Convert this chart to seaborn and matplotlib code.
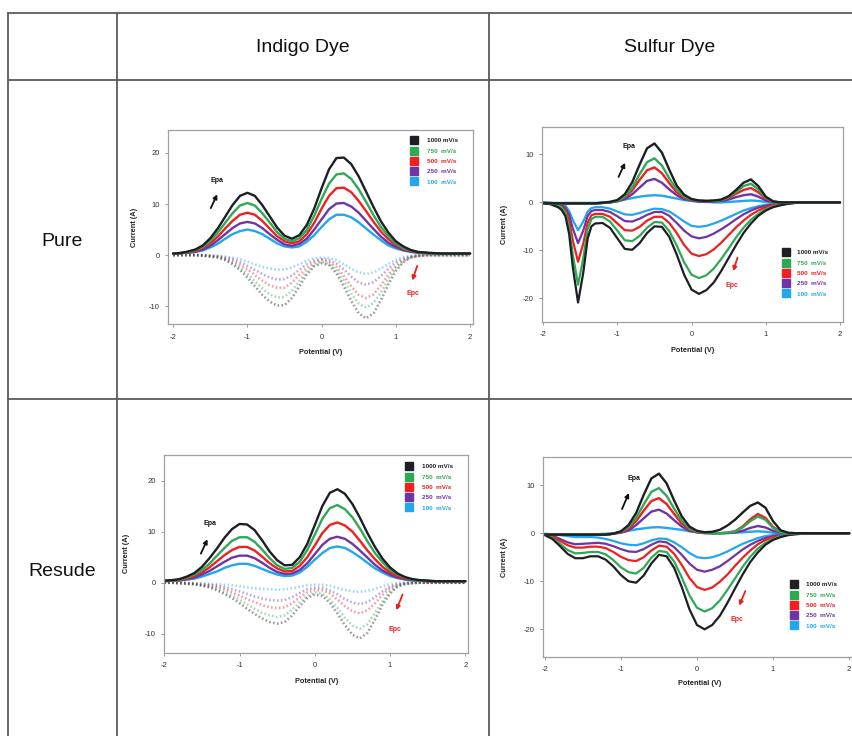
import numpy as np
import pandas as pd
import matplotlib
matplotlib.use("Agg")
import matplotlib.pyplot as plt
import seaborn as sns
from matplotlib.lines import Line2D

# ---------------- data ----------------
RATES = ["1000 mV/s", "750  mV/s", "500  mV/s", "250  mV/s", "100  mV/s"]
COLORS = ["#1d1f24", "#2fa955", "#ee2020", "#7034a4", "#22a6ec"]
COL_HEADERS = ["Indigo Dye", "Sulfur Dye"]
ROW_HEADERS = ["Pure", "Resude"]

POT_41 = [-2.0, -1.9, -1.8, -1.7, -1.6, -1.5, -1.4, -1.3, -1.2, -1.1,
          -1.0, -0.9, -0.8, -0.7, -0.6, -0.5, -0.4, -0.3, -0.2, -0.1,
          0.0, 0.1, 0.2, 0.3, 0.4, 0.5, 0.6, 0.7, 0.8, 0.9,
          1.0, 1.1, 1.2, 1.3, 1.4, 1.5, 1.6, 1.7, 1.8, 1.9, 2.0]

POT_SULFUR_PURE = [-2.0, -1.9, -1.8, -1.75, -1.7, -1.65, -1.6, -1.53, -1.46, -1.4, -1.35, -1.3, -1.2,
                   -1.1, -1.0, -0.9, -0.8, -0.7, -0.6, -0.5, -0.4, -0.3, -0.2, -0.1,
                   0.0, 0.1, 0.2, 0.3, 0.4, 0.5, 0.6, 0.7, 0.8, 0.9, 1.0, 1.1,
                   1.2, 1.3, 1.4, 1.5, 1.6, 1.7, 1.8, 1.9, 2.0]

# Indigo dye, pure: anodic (solid) sweep
ind_pure_ox_1000 = [0.3, 0.4, 0.7, 1.1, 1.9, 3.3, 5.2, 7.5, 9.8, 11.6, 12.2, 11.6, 9.8, 7.6, 5.4, 3.8, 3.2, 3.9, 5.9, 9.1,
                    13.1, 16.8, 19.0, 19.1, 17.8, 15.4, 12.4, 9.4, 6.6, 4.4, 2.7, 1.7, 1.0, 0.6, 0.5, 0.4, 0.3, 0.3, 0.3, 0.3, 0.3]
ind_pure_ox_750 = [0.3, 0.4, 0.6, 1.0, 1.6, 2.8, 4.4, 6.3, 8.2, 9.7, 10.2, 9.7, 8.2, 6.4, 4.5, 3.2, 2.7, 3.3, 4.9, 7.7,
                   11.0, 14.0, 15.8, 16.0, 14.9, 12.9, 10.4, 7.8, 5.5, 3.7, 2.3, 1.4, 0.9, 0.6, 0.4, 0.3, 0.3, 0.3, 0.3, 0.3, 0.3]
ind_pure_ox_500 = [0.3, 0.4, 0.5, 0.8, 1.4, 2.3, 3.6, 5.2, 6.7, 7.9, 8.3, 7.9, 6.7, 5.2, 3.7, 2.7, 2.3, 2.7, 4.1, 6.3,
                   9.1, 11.6, 13.1, 13.2, 12.3, 10.6, 8.6, 6.5, 4.6, 3.1, 2.0, 1.2, 0.8, 0.5, 0.4, 0.3, 0.3, 0.3, 0.3, 0.3, 0.3]
ind_pure_ox_250 = [0.3, 0.4, 0.5, 0.7, 1.1, 1.8, 2.9, 4.1, 5.3, 6.2, 6.5, 6.2, 5.3, 4.1, 3.0, 2.1, 1.8, 2.2, 3.2, 5.0,
                   7.0, 9.0, 10.1, 10.2, 9.5, 8.3, 6.7, 5.1, 3.6, 2.4, 1.6, 1.0, 0.7, 0.5, 0.4, 0.3, 0.3, 0.3, 0.3, 0.3, 0.3]
ind_pure_ox_100 = [0.3, 0.4, 0.4, 0.6, 0.9, 1.5, 2.2, 3.2, 4.1, 4.7, 5.0, 4.7, 4.1, 3.2, 2.3, 1.7, 1.5, 1.7, 2.6, 3.9,
                   5.5, 7.0, 7.9, 7.9, 7.4, 6.4, 5.2, 4.0, 2.9, 1.9, 1.3, 0.9, 0.6, 0.4, 0.4, 0.3, 0.3, 0.3, 0.3, 0.3, 0.3]
# Indigo dye, pure: cathodic (dotted) sweep
ind_pure_red_1000 = [0.0, 0.0, 0.0, 0.0, -0.1, -0.3, -0.5, -1.0, -1.8, -2.9, -4.4, -6.1, -7.8, -9.1, -9.9, -9.8, -8.4, -6.1, -3.8, -2.2,
                     -1.6, -2.0, -3.6, -6.1, -9.0, -11.4, -12.4, -11.4, -8.8, -5.7, -3.1, -1.4, -0.5, -0.2, 0.0, 0.0, 0.0, 0.0, 0.0, 0.0, 0.0]
ind_pure_red_750 = [0.0, 0.0, 0.0, 0.0, -0.1, -0.2, -0.4, -0.8, -1.5, -2.4, -3.7, -5.1, -6.5, -7.7, -8.3, -8.2, -7.0, -5.1, -3.2, -1.9,
                    -1.3, -1.7, -3.0, -5.0, -7.5, -9.5, -10.3, -9.4, -7.3, -4.7, -2.6, -1.2, -0.5, -0.1, 0.0, 0.0, 0.0, 0.0, 0.0, 0.0, 0.0]
ind_pure_red_500 = [0.0, 0.0, 0.0, 0.0, -0.1, -0.2, -0.3, -0.7, -1.2, -1.9, -2.8, -3.9, -5.0, -5.9, -6.4, -6.4, -5.4, -3.9, -2.5, -1.5,
                    -1.0, -1.4, -2.4, -4.1, -6.1, -7.8, -8.4, -7.7, -5.9, -3.8, -2.1, -1.0, -0.4, -0.1, 0.0, 0.0, 0.0, 0.0, 0.0, 0.0, 0.0]
ind_pure_red_250 = [0.0, 0.0, 0.0, 0.0, 0.0, -0.1, -0.2, -0.5, -0.8, -1.4, -2.1, -2.9, -3.7, -4.4, -4.8, -4.7, -4.0, -2.9, -1.8, -1.1,
                    -0.8, -1.0, -1.7, -2.8, -4.2, -5.4, -5.8, -5.3, -4.1, -2.7, -1.4, -0.7, -0.3, -0.1, 0.0, 0.0, 0.0, 0.0, 0.0, 0.0, 0.0]
ind_pure_red_100 = [0.0, 0.0, 0.0, 0.0, 0.0, -0.1, -0.2, -0.3, -0.5, -0.8, -1.3, -1.8, -2.3, -2.6, -2.9, -2.8, -2.4, -1.8, -1.1, -0.6,
                    -0.5, -0.6, -1.0, -1.8, -2.7, -3.4, -3.7, -3.4, -2.6, -1.7, -0.9, -0.4, -0.2, -0.1, 0.0, 0.0, 0.0, 0.0, 0.0, 0.0, 0.0]

# Indigo dye, residue
ind_res_ox_1000 = [0.4, 0.5, 0.7, 1.2, 1.9, 3.1, 4.8, 6.7, 8.8, 10.5, 11.5, 11.4, 10.3, 8.3, 6.1, 4.4, 3.4, 3.5, 5.0, 7.6,
                   11.3, 15.0, 17.6, 18.3, 17.4, 15.4, 12.7, 9.7, 7.0, 4.7, 3.0, 1.8, 1.1, 0.7, 0.5, 0.4, 0.3, 0.3, 0.3, 0.3, 0.3]
ind_res_ox_750 = [0.4, 0.4, 0.6, 1.0, 1.6, 2.5, 3.7, 5.3, 6.8, 8.2, 8.9, 8.9, 8.0, 6.5, 4.8, 3.4, 2.7, 2.9, 4.1, 6.4,
                  9.4, 12.5, 14.6, 15.2, 14.4, 12.8, 10.6, 8.1, 5.8, 4.0, 2.5, 1.6, 1.0, 0.6, 0.4, 0.4, 0.3, 0.3, 0.3, 0.3, 0.3]
ind_res_ox_500 = [0.3, 0.4, 0.5, 0.8, 1.3, 2.0, 3.0, 4.2, 5.4, 6.4, 7.0, 7.0, 6.3, 5.1, 3.8, 2.8, 2.2, 2.3, 3.3, 5.0,
                  7.3, 9.7, 11.3, 11.8, 11.2, 10.0, 8.2, 6.3, 4.6, 3.1, 2.0, 1.3, 0.8, 0.6, 0.4, 0.3, 0.3, 0.3, 0.3, 0.3, 0.3]
ind_res_ox_250 = [0.3, 0.4, 0.5, 0.7, 1.0, 1.6, 2.3, 3.2, 4.1, 4.9, 5.3, 5.3, 4.8, 3.9, 2.9, 2.1, 1.7, 1.8, 2.5, 3.8,
                  5.6, 7.4, 8.6, 9.0, 8.6, 7.6, 6.3, 4.9, 3.5, 2.4, 1.6, 1.0, 0.7, 0.5, 0.4, 0.3, 0.3, 0.3, 0.3, 0.3, 0.3]
ind_res_ox_100 = [0.3, 0.4, 0.4, 0.6, 0.8, 1.2, 1.7, 2.2, 2.9, 3.4, 3.7, 3.7, 3.3, 2.7, 2.1, 1.6, 1.3, 1.4, 2.0, 3.1,
                  4.5, 5.8, 6.8, 7.1, 6.8, 6.0, 5.0, 3.9, 2.8, 2.0, 1.3, 0.9, 0.6, 0.4, 0.4, 0.3, 0.3, 0.3, 0.3, 0.3, 0.3]
ind_res_red_1000 = [0.0, 0.0, -0.1, -0.2, -0.3, -0.6, -0.9, -1.5, -2.2, -3.0, -4.0, -5.1, -6.1, -7.0, -7.7, -8.0, -7.7, -6.4, -4.6, -3.0,
                    -2.3, -2.6, -3.9, -6.0, -8.3, -10.2, -10.9, -9.8, -7.2, -4.3, -2.1, -0.8, -0.3, -0.1, 0.0, 0.0, 0.0, 0.0, 0.0, 0.0, 0.0]
ind_res_red_750 = [0.0, 0.0, -0.1, -0.2, -0.3, -0.5, -0.8, -1.2, -1.8, -2.5, -3.3, -4.2, -5.1, -5.9, -6.4, -6.7, -6.4, -5.3, -3.8, -2.6,
                   -1.9, -2.1, -3.2, -4.9, -6.9, -8.4, -9.0, -8.1, -5.9, -3.6, -1.7, -0.7, -0.2, -0.1, 0.0, 0.0, 0.0, 0.0, 0.0, 0.0, 0.0]
ind_res_red_500 = [0.0, 0.0, -0.1, -0.1, -0.2, -0.4, -0.6, -0.9, -1.3, -1.9, -2.5, -3.2, -3.8, -4.4, -4.8, -5.0, -4.8, -4.0, -2.9, -1.9,
                   -1.4, -1.5, -2.1, -3.3, -4.6, -5.6, -6.0, -5.4, -4.0, -2.4, -1.1, -0.5, -0.1, 0.0, 0.0, 0.0, 0.0, 0.0, 0.0, 0.0, 0.0]
ind_res_red_250 = [0.0, 0.0, 0.0, -0.1, -0.2, -0.3, -0.4, -0.6, -0.9, -1.3, -1.7, -2.2, -2.7, -3.1, -3.4, -3.5, -3.4, -2.8, -2.0, -1.3,
                   -1.0, -1.0, -1.5, -2.3, -3.2, -3.9, -4.2, -3.8, -2.8, -1.7, -0.8, -0.3, -0.1, 0.0, 0.0, 0.0, 0.0, 0.0, 0.0, 0.0, 0.0]
ind_res_red_100 = [0.0, 0.0, 0.0, 0.0, -0.1, -0.1, -0.2, -0.3, -0.4, -0.5, -0.7, -0.9, -1.1, -1.2, -1.3, -1.4, -1.3, -1.1, -0.8, -0.5,
                   -0.4, -0.4, -0.6, -1.0, -1.4, -1.7, -1.8, -1.6, -1.2, -0.7, -0.3, -0.1, 0.0, 0.0, 0.0, 0.0, 0.0, 0.0, 0.0, 0.0, 0.0]

# Sulfur dye, pure (grid POT_SULFUR_PURE)
sul_pure_ox_1000 = [-0.2, -0.2, -0.2, -0.2, -0.2, -0.2, -0.2, -0.2, -0.2, -0.2, -0.2, -0.2, -0.1,
                    0.1, 0.5, 1.7, 4.2, 7.9, 11.3, 12.3, 10.4, 6.8, 3.5, 1.6,
                    0.7, 0.4, 0.3, 0.4, 0.6, 1.3, 2.6, 4.1, 4.8, 3.4, 1.2, 0.2,
                    0.0, 0.0, 0.0, 0.0, 0.0, 0.0, 0.0, 0.0, 0.0]
sul_pure_ox_750 = [-0.2, -0.2, -0.2, -0.2, -0.2, -0.2, -0.2, -0.2, -0.2, -0.2, -0.2, -0.2, -0.1,
                   0.0, 0.3, 1.2, 3.1, 5.9, 8.4, 9.2, 7.7, 5.0, 2.7, 1.2,
                   0.6, 0.4, 0.3, 0.3, 0.5, 1.1, 2.2, 3.4, 3.9, 2.7, 1.0, 0.2,
                   0.0, 0.0, 0.0, 0.0, 0.0, 0.0, 0.0, 0.0, 0.0]
sul_pure_ox_500 = [-0.2, -0.2, -0.2, -0.2, -0.2, -0.2, -0.2, -0.2, -0.2, -0.2, -0.2, -0.2, -0.1,
                   0.0, 0.3, 1.0, 2.5, 4.7, 6.7, 7.3, 6.1, 4.0, 2.1, 1.0,
                   0.5, 0.3, 0.3, 0.3, 0.5, 0.9, 1.8, 2.6, 3.0, 2.1, 0.8, 0.1,
                   0.0, 0.0, 0.0, 0.0, 0.0, 0.0, 0.0, 0.0, 0.0]
sul_pure_ox_250 = [-0.2, -0.2, -0.2, -0.2, -0.2, -0.2, -0.2, -0.2, -0.2, -0.2, -0.2, -0.2, -0.1,
                   0.0, 0.2, 0.7, 1.7, 3.1, 4.5, 4.9, 4.1, 2.7, 1.5, 0.7,
                   0.4, 0.2, 0.2, 0.2, 0.3, 0.6, 1.1, 1.5, 1.7, 1.2, 0.4, 0.1,
                   0.0, 0.0, 0.0, 0.0, 0.0, 0.0, 0.0, 0.0, 0.0]
sul_pure_ox_100 = [-0.1, -0.1, -0.1, -0.1, -0.1, -0.1, -0.1, -0.1, -0.1, -0.1, -0.1, -0.1, 0.0,
                   0.1, 0.3, 0.6, 0.9, 1.2, 1.4, 1.5, 1.4, 1.1, 0.8, 0.5,
                   0.3, 0.1, 0.1, 0.0, 0.0, 0.1, 0.2, 0.3, 0.4, 0.3, 0.1, 0.0,
                   0.0, 0.0, 0.0, 0.0, 0.0, 0.0, 0.0, 0.0, 0.0]
sul_pure_red_1000 = [-0.1, -0.4, -1.0, -1.6, -2.9, -6.6, -13.6, -20.9, -14.7, -7.5, -5.0, -4.4, -4.3,
                     -5.3, -7.5, -9.7, -9.9, -8.5, -6.4, -5.0, -5.1, -7.2, -10.9, -15.1,
                     -18.2, -19.1, -18.3, -16.7, -14.3, -11.6, -8.9, -6.4, -4.4, -2.8, -1.7, -1.0,
                     -0.6, -0.3, -0.1, -0.1, 0.0, 0.0, 0.0, 0.0, 0.0]
sul_pure_red_750 = [-0.1, -0.2, -0.6, -1.1, -2.1, -5.2, -11.0, -17.2, -11.7, -5.6, -3.5, -3.0, -3.0,
                    -4.0, -5.9, -7.9, -8.1, -7.0, -5.3, -4.1, -4.2, -6.0, -9.0, -12.5,
                    -15.1, -15.8, -15.2, -13.8, -11.8, -9.6, -7.3, -5.3, -3.6, -2.4, -1.4, -0.8,
                    -0.5, -0.2, -0.1, 0.0, 0.0, 0.0, 0.0, 0.0, 0.0]
sul_pure_red_500 = [-0.1, -0.2, -0.5, -0.9, -1.6, -3.8, -8.0, -12.4, -8.6, -4.2, -2.7, -2.4, -2.4,
                    -3.0, -4.4, -5.8, -5.9, -5.1, -3.8, -3.0, -3.0, -4.3, -6.4, -8.9,
                    -10.7, -11.2, -10.8, -9.8, -8.4, -6.8, -5.2, -3.8, -2.6, -1.7, -1.0, -0.6,
                    -0.3, -0.2, -0.1, 0.0, 0.0, 0.0, 0.0, 0.0, 0.0]
sul_pure_red_250 = [0.0, -0.1, -0.3, -0.6, -1.1, -2.6, -5.5, -8.5, -5.9, -2.8, -1.8, -1.6, -1.6,
                    -2.0, -2.9, -3.9, -4.0, -3.4, -2.6, -2.0, -2.0, -2.8, -4.3, -5.9,
                    -7.1, -7.5, -7.2, -6.5, -5.6, -4.6, -3.5, -2.5, -1.7, -1.1, -0.7, -0.4,
                    -0.2, -0.1, -0.1, 0.0, 0.0, 0.0, 0.0, 0.0, 0.0]
sul_pure_red_100 = [0.0, -0.1, -0.2, -0.4, -0.7, -1.8, -3.7, -5.8, -4.0, -1.9, -1.2, -1.0, -1.0,
                    -1.3, -1.9, -2.5, -2.6, -2.2, -1.7, -1.3, -1.4, -1.9, -2.9, -4.0,
                    -4.9, -5.1, -4.9, -4.4, -3.8, -3.1, -2.4, -1.7, -1.2, -0.8, -0.5, -0.3,
                    -0.1, -0.1, 0.0, 0.0, 0.0, 0.0, 0.0, 0.0, 0.0]

# Sulfur dye, residue (grid POT_41)
sul_res_ox_1000 = [-0.3, -0.3, -0.3, -0.3, -0.3, -0.3, -0.3, -0.3, -0.3, -0.1, 0.4, 1.7, 4.2, 8.0, 11.4, 12.4, 10.4, 6.8, 3.5, 1.4,
                   0.5, 0.2, 0.3, 0.7, 1.6, 2.8, 4.3, 5.7, 6.4, 5.3, 2.5, 0.6, 0.1, 0.0, 0.0, 0.0, 0.0, 0.0, 0.0, 0.0, 0.0]
sul_res_ox_750 = [-0.3, -0.3, -0.3, -0.3, -0.3, -0.3, -0.3, -0.3, -0.3, -0.1, 0.3, 1.3, 3.2, 6.0, 8.6, 9.4, 7.8, 5.1, 2.6, 1.0,
                  0.3, 0.1, 0.0, 0.0, 0.1, 0.4, 1.2, 2.5, 3.5, 2.8, 1.1, 0.2, 0.0, 0.0, 0.0, 0.0, 0.0, 0.0, 0.0, 0.0, 0.0]
sul_res_ox_500 = [-0.3, -0.3, -0.3, -0.3, -0.3, -0.3, -0.3, -0.3, -0.3, -0.1, 0.2, 1.0, 2.5, 4.7, 6.7, 7.3, 6.1, 4.0, 2.0, 0.8,
                  0.2, 0.1, 0.0, 0.0, 0.1, 0.4, 1.4, 2.9, 4.0, 3.2, 1.3, 0.3, 0.0, 0.0, 0.0, 0.0, 0.0, 0.0, 0.0, 0.0, 0.0]
sul_res_ox_250 = [-0.3, -0.3, -0.3, -0.3, -0.3, -0.3, -0.3, -0.3, -0.3, -0.1, 0.1, 0.6, 1.7, 3.1, 4.5, 4.9, 4.1, 2.7, 1.4, 0.5,
                  0.2, 0.0, 0.0, 0.0, 0.0, 0.2, 0.5, 1.1, 1.5, 1.2, 0.5, 0.1, 0.0, 0.0, 0.0, 0.0, 0.0, 0.0, 0.0, 0.0, 0.0]
sul_res_ox_100 = [-0.2, -0.2, -0.2, -0.2, -0.2, -0.2, -0.2, -0.2, -0.1, 0.0, 0.2, 0.5, 0.8, 1.0, 1.2, 1.25, 1.1, 0.9, 0.7, 0.4,
                  0.2, 0.1, 0.0, 0.0, 0.1, 0.1, 0.2, 0.3, 0.4, 0.3, 0.1, 0.0, 0.0, 0.0, 0.0, 0.0, 0.0, 0.0, 0.0, 0.0, 0.0]
sul_res_red_1000 = [-0.4, -1.2, -2.7, -4.3, -5.2, -5.2, -4.8, -4.8, -5.5, -6.9, -8.7, -10.0, -10.3, -8.8, -6.3, -4.5, -4.8, -7.2, -11.2, -15.8,
                    -19.1, -20.0, -19.1, -17.2, -14.5, -11.5, -8.6, -6.0, -4.0, -2.4, -1.4, -0.8, -0.4, -0.2, -0.1, 0.0, 0.0, 0.0, 0.0, 0.0, 0.0]
sul_res_red_750 = [-0.3, -1.0, -2.2, -3.5, -4.2, -4.1, -3.9, -3.9, -4.4, -5.6, -7.1, -8.1, -8.4, -7.2, -5.1, -3.7, -3.9, -5.9, -9.2, -12.9,
                   -15.5, -16.3, -15.6, -14.0, -11.8, -9.4, -7.0, -4.9, -3.2, -2.0, -1.2, -0.6, -0.3, -0.2, -0.1, 0.0, 0.0, 0.0, 0.0, 0.0, 0.0]
sul_res_red_500 = [-0.2, -0.7, -1.6, -2.5, -3.0, -3.0, -2.8, -2.8, -3.1, -3.9, -4.9, -5.6, -5.8, -5.0, -3.6, -2.6, -2.8, -4.3, -6.6, -9.3,
                   -11.2, -11.8, -11.3, -10.1, -8.6, -6.8, -5.1, -3.6, -2.3, -1.4, -0.8, -0.5, -0.2, -0.1, 0.0, 0.0, 0.0, 0.0, 0.0, 0.0, 0.0]
sul_res_red_250 = [-0.2, -0.5, -1.2, -1.9, -2.3, -2.2, -2.1, -2.0, -2.2, -2.7, -3.3, -3.8, -3.9, -3.3, -2.4, -1.7, -1.9, -2.9, -4.5, -6.3,
                   -7.6, -8.0, -7.6, -6.9, -5.8, -4.6, -3.4, -2.4, -1.6, -1.0, -0.6, -0.3, -0.2, -0.1, 0.0, 0.0, 0.0, 0.0, 0.0, 0.0, 0.0]
sul_res_red_100 = [-0.1, -0.2, -0.4, -0.6, -0.8, -0.8, -0.8, -0.9, -1.2, -1.6, -2.1, -2.4, -2.5, -2.1, -1.5, -1.1, -1.2, -1.9, -2.9, -4.1,
                   -5.0, -5.2, -5.0, -4.5, -3.8, -3.0, -2.2, -1.6, -1.0, -0.6, -0.4, -0.2, -0.1, -0.1, 0.0, 0.0, 0.0, 0.0, 0.0, 0.0, 0.0]

# ---------------- style ----------------
sns.set_style("white")
plt.rcParams["font.family"] = ["Liberation Sans", "DejaVu Sans"]
plt.rcParams["axes.unicode_minus"] = False
plt.rcParams["lines.solid_joinstyle"] = "round"
plt.rcParams["lines.solid_capstyle"] = "round"

W, H = 852, 736
fig = plt.figure(figsize=(W / 100, H / 100), dpi=100)
PALETTE = dict(zip(RATES, COLORS))


def frame(x, curves):
    return pd.DataFrame({
        "Potential": np.tile(np.asarray(x, dtype=float), len(curves)),
        "Current": np.concatenate([np.asarray(c, dtype=float) for c in curves]),
        "Rate": np.repeat(RATES, len(x)),
    })


def px_rect(l, t, r, b):
    return [l / W, 1 - b / H, (r - l) / W, (b - t) / H]


def panel(rect, x_ox, ox, x_red, red, dotted, xlim, ylim, yticks, leg_xy, hpad,
          epa, epc, ylab_x, xlab_y):
    ax = fig.add_axes(px_rect(*rect))
    d_red = frame(x_red, red)
    d_ox = frame(x_ox, ox)
    if dotted:
        sns.lineplot(data=d_red, x="Potential", y="Current", hue="Rate",
                     hue_order=RATES[::-1], palette=PALETTE, estimator=None,
                     sort=False, legend=False, ax=ax, linewidth=1.9,
                     linestyle=(0, (0.6, 0.9)), alpha=0.45)
    else:
        sns.lineplot(data=d_red, x="Potential", y="Current", hue="Rate",
                     hue_order=RATES[::-1], palette=PALETTE, estimator=None,
                     sort=False, legend=False, ax=ax, linewidth=1.6)
    sns.lineplot(data=d_ox, x="Potential", y="Current", hue="Rate",
                 hue_order=RATES[::-1], palette=PALETTE, estimator=None,
                 sort=False, legend=False, ax=ax, linewidth=1.7)
    ax.set_xlim(*xlim)
    ax.set_ylim(*ylim)
    ax.set_xticks([-2, -1, 0, 1, 2])
    ax.set_yticks(yticks)
    ax.set_xlabel("Potential (V)", fontsize=5.3, fontweight="bold", color="#222222")
    ax.set_ylabel("Current (A)", fontsize=5.3, fontweight="bold", color="#222222")
    ax.yaxis.set_label_coords(ylab_x, 0.5)
    ax.xaxis.set_label_coords(0.5, xlab_y)
    ax.tick_params(axis="both", labelsize=5.5, length=2, width=0.6, color="#8a8a8a",
                   labelcolor="#333333", bottom=True, left=True, direction="out")
    ax.tick_params(axis="x", pad=5)
    ax.tick_params(axis="y", pad=4)
    for s in ax.spines.values():
        s.set_color("#a0a0a0")
        s.set_linewidth(0.9)
    handles = [Line2D([0], [0], marker="s", linestyle="none", markersize=6.3,
                      markerfacecolor=c, markeredgecolor=c) for c in COLORS]
    leg = ax.legend(handles, RATES, loc="upper left",
                    bbox_to_anchor=(leg_xy[0] / W, 1 - leg_xy[1] / H),
                    bbox_transform=fig.transFigure, frameon=False,
                    prop={"size": 4.6, "weight": "bold"}, labelspacing=0.75,
                    handletextpad=hpad, handlelength=1.0, borderpad=0,
                    borderaxespad=0)
    for t, c in zip(leg.get_texts(), COLORS):
        t.set_color(c)
    (t0, h0, tx0), (t1, h1, tx1) = epa, epc
    ax.annotate("", xy=h0, xytext=t0,
                arrowprops=dict(arrowstyle="-|>", color="#111111", lw=1.3, mutation_scale=6))
    ax.text(*tx0, "Epa", fontsize=5, fontweight="bold", color="#111111", ha="center", va="center")
    ax.annotate("", xy=h1, xytext=t1,
                arrowprops=dict(arrowstyle="-|>", color="#e82020", lw=1.3, mutation_scale=6))
    ax.text(*tx1, "Epc", fontsize=5, fontweight="bold", color="#e82020", ha="center", va="center")
    return ax


ind_pure_ox = [ind_pure_ox_1000, ind_pure_ox_750, ind_pure_ox_500, ind_pure_ox_250, ind_pure_ox_100]
ind_pure_red = [ind_pure_red_1000, ind_pure_red_750, ind_pure_red_500, ind_pure_red_250, ind_pure_red_100]
ind_res_ox = [ind_res_ox_1000, ind_res_ox_750, ind_res_ox_500, ind_res_ox_250, ind_res_ox_100]
ind_res_red = [ind_res_red_1000, ind_res_red_750, ind_res_red_500, ind_res_red_250, ind_res_red_100]
sul_pure_ox = [sul_pure_ox_1000, sul_pure_ox_750, sul_pure_ox_500, sul_pure_ox_250, sul_pure_ox_100]
sul_pure_red = [sul_pure_red_1000, sul_pure_red_750, sul_pure_red_500, sul_pure_red_250, sul_pure_red_100]
sul_res_ox = [sul_res_ox_1000, sul_res_ox_750, sul_res_ox_500, sul_res_ox_250, sul_res_ox_100]
sul_res_red = [sul_res_red_1000, sul_res_red_750, sul_res_red_500, sul_res_red_250, sul_res_red_100]

# Pure indigo
panel((168, 130, 473, 324), POT_41, ind_pure_ox, POT_41, ind_pure_red, True,
      (-2.07, 2.04), (-13.5, 24.5), [-10, 0, 10, 20], (410.5, 138), 1.6,
      ((-1.51, 8.7), (-1.39, 12.4), (-1.41, 14.7)),
      ((1.30, -1.6), (1.21, -5.5), (1.23, -7.5)), -0.10, -0.13)
# Pure sulfur
panel((541.7, 126.7, 843.3, 321.7), POT_SULFUR_PURE, sul_pure_ox, POT_SULFUR_PURE, sul_pure_red, False,
      (-2.02, 2.045), (-24.9, 15.8), [-20, -10, 0, 10], (782.7, 250), 1.3,
      ((-1.0, 4.8), (-0.88, 8.8), (-0.85, 11.6)),
      ((0.63, -11.0), (0.55, -14.9), (0.54, -17.4)), -0.112, -0.128)
# Residue indigo
panel((164.3, 455, 468.3, 652.7), POT_41, ind_res_ox, POT_41, ind_res_red, True,
      (-2.0, 2.04), (-13.7, 25.0), [-10, 0, 10, 20], (405.7, 464), 1.6,
      ((-1.53, 5.2), (-1.41, 9.0), (-1.39, 11.5)),
      ((1.18, -1.8), (1.07, -5.9), (1.07, -9.1)), -0.113, -0.13)
# Residue sulfur
panel((543.3, 457.3, 856, 656.7), POT_41, sul_res_ox, POT_41, sul_res_red, False,
      (-2.02, 2.09), (-25.7, 15.8), [-20, -10, 0, 10], (790.7, 582), 1.45,
      ((-1.0, 4.5), (-0.88, 8.9), (-0.83, 11.3)),
      ((0.65, -11.5), (0.54, -15.6), (0.53, -17.9)), -0.113, -0.117)

# ---------------- table grid ----------------
LINE_COLOR = "#5a5a5a"
for (x0, y0, x1, y1) in [(8, 13, 852, 13), (8, 80, 852, 80), (8, 399, 852, 399),
                         (8, 13, 8, 736), (117, 13, 117, 736), (489, 13, 489, 736)]:
    fig.add_artist(Line2D([x0 / W, x1 / W], [1 - y0 / H, 1 - y1 / H],
                          transform=fig.transFigure, color=LINE_COLOR, lw=1.3))

for txt, xc in zip(COL_HEADERS, [303, 670]):
    fig.text(xc / W, 1 - 47 / H, txt, ha="center", va="center", fontsize=14, color="#111111")
for txt, yc in zip(ROW_HEADERS, [241, 571]):
    fig.text(62 / W, 1 - yc / H, txt, ha="center", va="center", fontsize=14, color="#111111")

fig.savefig("out.png", dpi=100, facecolor="white")
